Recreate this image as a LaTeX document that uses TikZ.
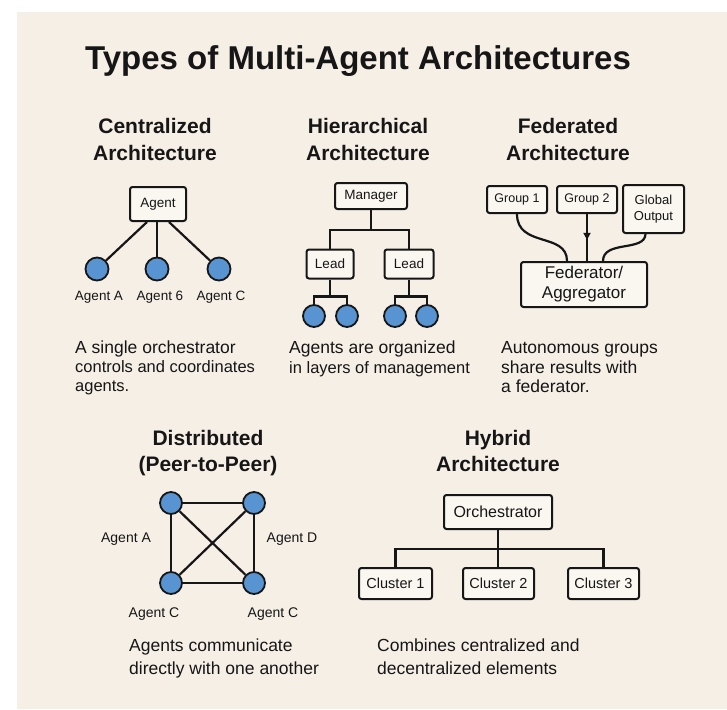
\documentclass[tikz,border=0pt]{standalone}
\usepackage{fontspec}
\setmainfont{Liberation Sans}
\usetikzlibrary{arrows.meta,decorations.markings}
\definecolor{bg}{RGB}{246,239,230}
\definecolor{boxbg}{RGB}{250,246,240}
\definecolor{ink}{RGB}{22,22,22}
\definecolor{agentblue}{RGB}{88,148,210}
\tikzset{
  titletext/.style={font=\fontsize{33}{40}\selectfont\bfseries, text=ink, anchor=base, inner sep=0pt},
  headtext/.style={font=\fontsize{21}{25}\selectfont\bfseries, text=ink, anchor=base, inner sep=0pt},
  desctext/.style={font=\fontsize{17.5}{21}\selectfont, text=ink, anchor=base west, inner sep=0pt},
  descsmall/.style={desctext, font=\fontsize{16.5}{20}\selectfont},
  lbl/.style={font=\fontsize{13.5}{16}\selectfont, text=ink, anchor=base, inner sep=0pt},
  box/.style={draw=ink, line width=2pt, fill=boxbg, rounded corners=2.5pt, inner sep=0pt,
              text=ink, font=\fontsize{13.5}{16}\selectfont, align=center},
  agent/.style={circle, draw=ink, line width=1.8pt, fill=agentblue, inner sep=0pt, minimum size=23pt},
  link/.style={draw=ink, line width=2.2pt},
  arrowmid/.style={decoration={markings, mark=at position 0.55 with {\arrow{Triangle[length=7pt,width=7pt]}}}, postaction={decorate}}
}
\begin{document}
\begin{tikzpicture}[x=1pt,y=-1pt]
\useasboundingbox (0,0) rectangle (727,709);
\fill[white] (0,0) rectangle (727,709);
\fill[bg] (17,12) rectangle (727,709);

% Title
\node[titletext] (title) at (358,70) {Types of Multi-Agent Architectures};

% ---------- Centralized ----------
\node[headtext] (hC1) at (155,133) {Centralized};
\node[headtext] (hC2) at (155,160) {Architecture};
\node[box, minimum width=56pt, minimum height=34pt] (cAgent) at (158,204) {Agent};
\node[agent] (cA) at (97,269) {};
\node[agent] (cB) at (157,269) {};
\node[agent] (cC) at (219,269) {};
\draw[link] ([xshift=-11pt]cAgent.south) -- (cA);
\draw[link] ([xshift=-1pt]cAgent.south) -- (cB);
\draw[link] ([xshift=11pt]cAgent.south) -- (cC);
\node[lbl] (lA) at (99,300) {Agent A};
\node[lbl] (lB) at (160,300) {Agent 6};
\node[lbl] (lC) at (221,300) {Agent C};
\node[desctext] (d1a) at (75,353) {A single orchestrator};
\node[descsmall] (d1b) at (75,372) {controls and coordinates};
\node[descsmall] (d1c) at (75,391) {agents.};

% ---------- Hierarchical ----------
\node[headtext] (hH1) at (368,133) {Hierarchical};
\node[headtext] (hH2) at (368,160) {Architecture};
\node[box, minimum width=72pt, minimum height=26pt] (mgr) at (371,196) {Manager};
\node[box, minimum width=47pt, minimum height=29pt] (l1) at (330,264) {Lead};
\node[box, minimum width=49pt, minimum height=29pt] (l2) at (409,264) {Lead};
\node[agent, minimum size=22pt] (h1) at (314,316) {};
\node[agent, minimum size=22pt] (h2) at (347,316) {};
\node[agent, minimum size=22pt] (h3) at (395,316) {};
\node[agent, minimum size=22pt] (h4) at (427,316) {};
\draw[link] (mgr.south) -- ++(0,20) -| (l1.north);
\draw[link] (mgr.south) -- ++(0,20) -| (l2.north);
\draw[link] (l1.south) -- ++(0,17) -| (h1.north);
\draw[link] (l1.south) -- ++(0,17) -| (h2.north);
\draw[link] (l2.south) -- ++(0,17) -| (h3.north);
\draw[link] (l2.south) -- ++(0,17) -| (h4.north);
\node[desctext] (d2a) at (289,353) {Agents are organized};
\node[desctext, font=\fontsize{16.5}{20}\selectfont] (d2b) at (289,373) {in layers of management};

% ---------- Federated ----------
\node[headtext] (hF1) at (568,133) {Federated};
\node[headtext] (hF2) at (568,160) {Architecture};
\node[box, font=\fontsize{12.5}{15}\selectfont, minimum width=60pt, minimum height=27pt] (g1) at (517,199.5) {Group 1};
\node[box, font=\fontsize{12.5}{15}\selectfont, minimum width=60pt, minimum height=27pt] (g2) at (587,199.5) {Group 2};
\node[box, font=\fontsize{13}{16}\selectfont, minimum width=61pt, minimum height=48pt] (gout) at (653.5,209) {Global\\Output};
\node[box, font=\fontsize{17}{20}\selectfont, minimum width=126pt, minimum height=45pt] (fed) at (584,284.5) {Federator/\\Aggregator};
\draw[link] (g1.south) .. controls (517,248) and (567,232) .. ([xshift=-17pt]fed.north);
\draw[link] ([xshift=-8pt]gout.south) .. controls (645,252) and (603,240) .. ([xshift=19pt]fed.north);
\draw[link, arrowmid] (g2.south) -- (g2.south |- fed.north);
\node[desctext] (d3a) at (501,353) {Autonomous groups};
\node[desctext] (d3b) at (501,373) {share results with};
\node[desctext] (d3c) at (501,392) {a federator.};

% ---------- Distributed ----------
\node[headtext] (hD1) at (208,445) {Distributed};
\node[headtext] (hD2) at (208,471) {(Peer-to-Peer)};
\node[agent, minimum size=22pt] (p1) at (171,503) {};
\node[agent, minimum size=22pt] (p2) at (254,503) {};
\node[agent, minimum size=22pt] (p3) at (171,583) {};
\node[agent, minimum size=22pt] (p4) at (254,583) {};
\draw[link] (p1) -- (p2);
\draw[link] (p1) -- (p3);
\draw[link] (p2) -- (p4);
\draw[link] (p3) -- (p4);
\draw[link] (p1) -- (p4);
\draw[link] (p2) -- (p3);
\node[lbl, font=\fontsize{14}{16}\selectfont] (pA) at (126,542) {Agent A};
\node[lbl, font=\fontsize{14}{16}\selectfont] (pD) at (292,542) {Agent D};
\node[lbl, font=\fontsize{14}{16}\selectfont] (pC1) at (154,617) {Agent C};
\node[lbl, font=\fontsize{14}{16}\selectfont] (pC2) at (273,617) {Agent C};
\node[desctext] (d4a) at (129,651) {Agents communicate};
\node[desctext] (d4b) at (129,674) {directly with one another};

% ---------- Hybrid ----------
\node[headtext] (hY1) at (498,445) {Hybrid};
\node[headtext] (hY2) at (498,471) {Architecture};
\node[box, font=\fontsize{16}{19}\selectfont, minimum width=108pt, minimum height=34pt] (orch) at (498,512) {Orchestrator};
\node[box, font=\fontsize{14.5}{17}\selectfont, minimum width=73pt, minimum height=31pt] (cl1) at (395.5,583.5) {Cluster 1};
\node[box, font=\fontsize{14.5}{17}\selectfont, minimum width=71pt, minimum height=31pt] (cl2) at (498.5,583.5) {Cluster 2};
\node[box, font=\fontsize{14.5}{17}\selectfont, minimum width=71pt, minimum height=31pt] (cl3) at (603.5,583.5) {Cluster 3};
\draw[link] (orch.south) -- ++(0,19) -| (cl1.north);
\draw[link] (orch.south) -- ++(0,19) -| (cl3.north);
\draw[link] (orch.south) -- (orch.south |- cl2.north);
\node[desctext] (d5a) at (377,651) {Combines centralized and};
\node[desctext] (d5b) at (377,674) {decentralized elements};
\end{tikzpicture}
\end{document}
